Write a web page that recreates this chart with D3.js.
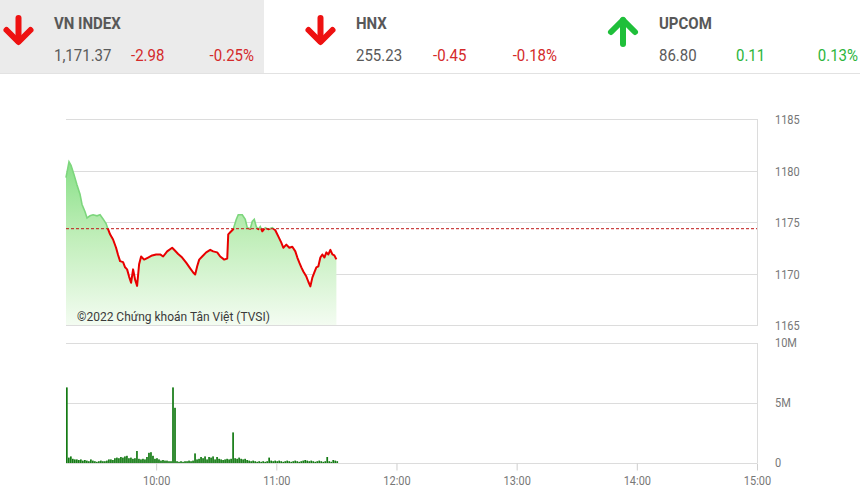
<!DOCTYPE html>
<html lang="vi">
<head>
<meta charset="UTF-8">
<title>VN-Index trong phiên</title>
<script src="https://cdn.jsdelivr.net/npm/d3@7"></script>
<style>
  body { margin: 0; background: #fff; }
  svg { display: block; font-family: Roboto, "Noto Sans", sans-serif; }
  .tall { transform-box: fill-box; transform-origin: center; transform: scaleY(1.13); }
  .grid { stroke: #dcdcdc; stroke-width: 1; shape-rendering: crispEdges; }
  .axis-label { fill: #777; font-size: 11px; }
</style>
</head>
<body>
<div id="chart"></div>
<script>
// header boxes
const indexNames = ["VN INDEX", "HNX", "UPCOM"];
const indexValues = ["1,171.37", "255.23", "86.80"];
const indexChanges = ["-2.98", "-0.45", "0.11"];
const indexPercents = ["-0.25%", "-0.18%", "0.13%"];

const refPrice = 1174.35; // previous close

// intraday VN-Index, 9:15 -> 11:30
const priceTimes = ["09:15:00","09:16:30","09:17:30","09:19:00","09:20:30","09:22:00","09:23:00","09:24:30","09:25:30","09:27:00",
  "09:28:30","09:30:30","09:32:00","09:33:30","09:35:00","09:36:00","09:37:00","09:38:30","09:40:00","09:41:00",
  "09:42:00","09:43:30","09:44:30","09:45:30","09:46:30","09:47:30","09:48:30","09:49:30","09:50:30","09:51:30",
  "09:52:30","09:54:00","09:56:00","09:58:00","10:00:00","10:02:00","10:03:30","10:05:30","10:08:00","10:09:00",
  "10:11:00","10:13:00","10:15:00","10:17:00","10:18:30","10:19:30","10:20:30","10:21:30","10:23:00","10:25:00",
  "10:27:00","10:28:30","10:30:30","10:32:00","10:34:00","10:35:30","10:36:00","10:37:00","10:38:30","10:40:00",
  "10:41:00","10:43:00","10:44:30","10:45:30","10:47:00","10:48:00","10:49:00","10:50:00","10:51:00","10:52:00",
  "10:53:00","10:54:30","10:56:00","10:58:00","10:59:30","11:01:00","11:02:30","11:03:30","11:05:00","11:06:30",
  "11:08:00","11:09:30","11:10:30","11:11:30","11:12:30","11:13:30","11:15:00","11:16:00","11:17:00","11:18:00",
  "11:19:00","11:20:00","11:21:00","11:22:00","11:23:00","11:24:00","11:25:00","11:26:00","11:27:00","11:28:00",
  "11:29:00","11:30:00"];
const prices = [1179.3,1180.85,1180.5,1179.6,1178.6,1177.7,1176.7,1176.0,1175.4,1175.6,
  1175.7,1175.6,1175.7,1175.3,1174.85,1174.3,1173.8,1173.3,1172.5,1171.8,
  1171.2,1171.1,1170.6,1170.4,1169.7,1169.1,1170.4,1169.4,1168.8,1170.9,
  1171.65,1171.35,1171.55,1171.75,1171.85,1171.85,1171.65,1172.15,1172.5,1172.3,
  1171.9,1171.55,1171.05,1170.5,1170.1,1169.9,1170.7,1171.35,1171.65,1172.05,
  1172.3,1172.15,1172.05,1171.65,1171.35,1171.45,1173.8,1174.0,1174.3,1175.25,
  1175.7,1175.7,1175.25,1174.45,1174.35,1175.05,1175.25,1174.55,1174.3,1174.55,
  1174.1,1174.45,1174.3,1174.45,1174.2,1173.6,1173.0,1172.5,1172.8,1172.5,
  1172.6,1172.15,1171.55,1171.05,1170.6,1170.2,1169.7,1169.2,1168.75,1169.6,
  1170.1,1170.6,1170.7,1171.55,1171.85,1171.55,1172.05,1171.85,1172.3,1171.85,
  1171.75,1171.37];

// matched volume per minute from 9:15 (millions of shares)
const volStart = "09:15:00";
const volumes = [6.3,0.45,0.55,0.35,0.3,0.3,0.25,0.3,0.2,0.25,
  0.2,0.15,0.3,0.2,0.15,0.1,0.15,0.2,0.15,0.15,
  0.2,0.3,0.3,0.25,0.4,0.45,0.4,0.5,0.45,0.55,
  0.6,0.4,0.45,0.35,0.4,1.0,0.35,0.3,0.35,0.3,
  0.5,0.85,0.9,0.6,0.35,0.4,0.3,0.2,0.25,0.2,
  0.2,0.15,0.15,6.3,4.6,0.15,0.1,0.15,0.1,0.15,
  0.15,0.2,0.15,0.2,0.8,0.3,0.35,0.5,0.4,0.55,
  0.3,0.5,0.45,0.55,0.3,0.5,0.35,0.3,0.25,0.3,
  0.35,0.3,0.35,2.55,0.4,0.35,0.45,0.35,0.3,0.35,
  0.25,0.2,0.15,0.2,0.15,0.1,0.15,0.1,0.15,0.1,
  0.15,0.45,0.2,0.15,0.2,0.15,0.2,0.15,0.1,0.15,
  0.2,0.15,0.1,0.15,0.2,0.15,0.1,0.15,0.2,0.25,
  0.2,0.15,0.2,0.15,0.1,0.15,0.2,0.15,0.1,0.15,
  0.5,0.15,0.1,0.25,0.2,0.15];

const priceTicks = [1165, 1170, 1175, 1180, 1185];
const volTicks = [0, 5, 10];
const volTickLabels = ["0", "5M", "10M"];
const timeTicks = ["10:00", "11:00", "12:00", "13:00", "14:00", "15:00"];
const sessionRange = ["09:15", "15:00"];

const W = 860, H = 502;
const left = 66, right = 757;

const parseHMS = d3.timeParse("%H:%M:%S");
const parseHM = d3.timeParse("%H:%M");

const svg = d3.select("#chart").append("svg")
  .attr("width", W).attr("height", H);

// ---------- header ----------
svg.append("rect").attr("x", 0).attr("y", 0).attr("width", 264).attr("height", 73).attr("fill", "#ebebeb");
svg.append("line").attr("x1", 0).attr("x2", W).attr("y1", 73.5).attr("y2", 73.5)
  .attr("stroke", "#e2e2e2");

const boxX = [0, 302, 604];
const red = "#d42a2a", green = "#2cb53c";
indexNames.forEach((name, i) => {
  const g = svg.append("g").attr("transform", `translate(${boxX[i]},0)`);
  const up = !indexChanges[i].startsWith("-");
  const col = up ? green : red;
  const cx = i === 0 ? 18.5 : (i === 1 ? 18.5 : 19);
  const arrow = g.append("g").attr("fill", "none").attr("stroke", up ? "#1fbf3a" : "#ee1111")
    .attr("stroke-width", 6).attr("stroke-linecap", "round").attr("stroke-linejoin", "round");
  if (up) {
    arrow.append("path").attr("d", `M${cx},20 L${cx},44`);
    arrow.append("path").attr("d", `M${cx - 12},32 L${cx},20 L${cx + 12},32`);
  } else {
    arrow.append("path").attr("d", `M${cx},18 L${cx},41`);
    arrow.append("path").attr("d", `M${cx - 12},30 L${cx},42 L${cx + 12},30`);
  }
  g.append("text").attr("class", "tall").attr("x", 54 + (i === 2 ? 1 : 0)).attr("y", 28)
    .attr("font-size", 15).attr("font-weight", "bold").attr("fill", "#585858").text(name);
  g.append("text").attr("class", "tall").attr("x", 54 + (i === 2 ? 1 : 0)).attr("y", 60)
    .attr("font-size", 15).attr("fill", "#5a5a5a").text(indexValues[i]);
  g.append("text").attr("class", "tall").attr("x", 131 + (i === 2 ? 1 : 0)).attr("y", 60)
    .attr("font-size", 15).attr("fill", col).text(indexChanges[i]);
  g.append("text").attr("class", "tall").attr("x", 254 + (i === 1 ? 1 : 0)).attr("y", 60)
    .attr("text-anchor", "end").attr("font-size", 15).attr("fill", col).text(indexPercents[i]);
});

// ---------- scales ----------
const x = d3.scaleTime().domain(sessionRange.map(parseHM)).range([left, right]);
const yP = d3.scaleLinear().domain([1165, 1185]).range([325, 119]);
const yV = d3.scaleLinear().domain([0, 10]).range([463, 343]);

const pts = priceTimes.map((t, i) => ({ t: parseHMS(t), v: prices[i] }));

// ---------- price panel ----------
const pg = svg.append("g");
pg.selectAll("line.gp").data(priceTicks).join("line").attr("class", "grid")
  .attr("x1", left).attr("x2", right)
  .attr("y1", d => Math.round(yP(d)) + 0.5).attr("y2", d => Math.round(yP(d)) + 0.5);
pg.append("line").attr("class", "grid")
  .attr("x1", right + 0.5).attr("x2", right + 0.5).attr("y1", yP(1185)).attr("y2", yP(1165) + 1);

const defs = svg.append("defs");
const grad = defs.append("linearGradient").attr("id", "fillGrad")
  .attr("gradientUnits", "userSpaceOnUse").attr("x1", 0).attr("x2", 0).attr("y1", 160).attr("y2", 326);
grad.append("stop").attr("offset", 0).attr("stop-color", "#86df86");
grad.append("stop").attr("offset", 0.45).attr("stop-color", "#bfeeb8");
grad.append("stop").attr("offset", 1).attr("stop-color", "#f4fcf2");

const yRef = yP(refPrice);
defs.append("clipPath").attr("id", "above").append("rect")
  .attr("x", 0).attr("y", 0).attr("width", W).attr("height", yRef);
defs.append("clipPath").attr("id", "below").append("rect")
  .attr("x", 0).attr("y", yRef).attr("width", W).attr("height", H);

const area = d3.area().x(d => x(d.t)).y0(yP(1165)).y1(d => yP(d.v));
const line = d3.line().x(d => x(d.t)).y(d => yP(d.v));

pg.append("path").datum(pts).attr("d", area).attr("fill", "url(#fillGrad)");
pg.append("path").datum(pts).attr("d", line).attr("fill", "none")
  .attr("stroke", "#7dd67d").attr("stroke-width", 1.6).attr("clip-path", "url(#above)");

pg.append("line").attr("x1", left).attr("x2", right).attr("y1", yRef).attr("y2", yRef)
  .attr("stroke", "#c01818").attr("stroke-width", 1).attr("stroke-dasharray", "3,2");

pg.append("path").datum(pts).attr("d", line).attr("fill", "none")
  .attr("stroke", "#e80000").attr("stroke-width", 2).attr("stroke-linejoin", "round")
  .attr("clip-path", "url(#below)");

pg.selectAll("text.pl").data(priceTicks).join("text").attr("class", "axis-label tall")
  .attr("x", 775).attr("y", d => yP(d) + 5).text(d => d);

pg.append("text").attr("class", "tall").attr("x", 77).attr("y", 320)
  .attr("font-size", 12).attr("fill", "#3a3a3a").text("©2022 Chứng khoán Tân Việt (TVSI)");

// ---------- volume panel ----------
const vg = svg.append("g");
vg.selectAll("line.gv").data(volTicks).join("line").attr("class", "grid")
  .attr("x1", left).attr("x2", right)
  .attr("y1", d => Math.round(yV(d)) + 0.5).attr("y2", d => Math.round(yV(d)) + 0.5)
  .attr("stroke", d => d === 0 ? "#cfcfcf" : "#dcdcdc");
vg.append("line").attr("class", "grid")
  .attr("x1", right + 0.5).attr("x2", right + 0.5).attr("y1", yV(10)).attr("y2", yV(0));

const t0 = parseHMS(volStart);
const bars = volumes.map((v, i) => ({ t: d3.timeMinute.offset(t0, i), v }));
vg.selectAll("rect.vb").data(bars).join("rect")
  .attr("x", d => x(d.t)).attr("width", 1.7)
  .attr("y", d => yV(d.v)).attr("height", d => yV(0) - yV(d.v))
  .attr("fill", "#137a13");

vg.selectAll("text.vl").data(volTicks).join("text").attr("class", "axis-label tall")
  .attr("x", 775).attr("y", d => yV(d) + 4).text((d, i) => volTickLabels[i]);

// time axis
const xAxis = d3.axisBottom(x)
  .tickValues(timeTicks.map(parseHM))
  .tickFormat(d3.timeFormat("%H:%M"))
  .tickSize(7).tickPadding(6);
const ax = svg.append("g").attr("transform", `translate(0,${yV(0) + 0.5})`).call(xAxis);
ax.select(".domain").remove();
ax.selectAll("line").attr("stroke", "#cfcfcf");
ax.selectAll("text").attr("class", "axis-label tall").attr("font-size", 11)
  .attr("font-family", "Roboto, sans-serif");
</script>
</body>
</html>
